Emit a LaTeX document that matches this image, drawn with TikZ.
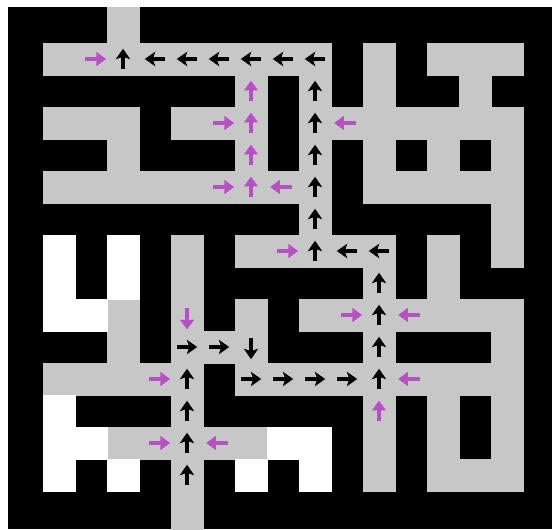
\documentclass[tikz,border=0pt]{standalone}
\usepackage{xcolor}
\usepackage{tikz}
\usetikzlibrary{arrows.meta}
\definecolor{floorgray}{RGB}{199,199,199}
\definecolor{markmag}{RGB}{182,80,196}

\begin{document}
\begin{tikzpicture}[
  x=8mm, y=-8mm,
  floor/.style={fill=floorgray, draw=floorgray, line width=0.3pt},
  blank/.style={fill=white, draw=white, line width=0.3pt},
  blk/.style={-{Stealth[length=2.6mm, width=3.6mm, inset=0.6mm]}, line width=2.3pt, black},
  mag/.style={-{Triangle[length=2.4mm, width=3.4mm]}, line width=2.6pt, markmag},
]
\useasboundingbox (-0.344,-0.344) rectangle (16.906,16.1875);
\fill[white] (-0.344,-0.344) rectangle (16.906,16.1875);
\fill[black] (-0.094,-0.125) rectangle (16.906,16.1875);

% corridors, row by row
\foreach \r/\cs in {0/{3}, 1/{1,...,9,11,13,14,15}, 2/{7,9,11,14},
    3/{1,2,3,5,6,7,9,10,...,15}, 4/{3,7,9,11,13,15}, 5/{1,...,9,11,12,...,15},
    6/{9,15}, 7/{5,7,8,9,10,11,13,15}, 8/{5,11,13}, 9/{3,5,7,9,10,...,15},
    10/{3,5,6,7,11,15}, 11/{1,...,5,7,8,...,15}, 12/{5,11,13,15},
    13/{3,...,7,11,13,15}, 14/{5,11,13,14,15}, 15/{5}}
  \foreach \c in \cs
    \filldraw[floor] (\c,\r) rectangle ++(1,1);
\filldraw[floor] (3,-0.125) rectangle (4,0.1);
\filldraw[floor] (5,15.9) rectangle (6,16.1875);

% dead ends
\foreach \c/\r in {1/7,3/7,1/8,3/8,1/9,2/9,1/12,1/13,2/13,8/13,9/13,1/14,3/14,7/14,9/14}
  \filldraw[blank] (\c,\r) rectangle ++(1,1);

% path taken
\foreach \c/\r in {3/1,9/2,9/3,9/4,9/5,9/6,9/7,11/8,11/9,11/10,11/11,5/11,5/12,5/13,5/14}
  \draw[blk] (\c+.5,\r+.82) -- (\c+.5,\r+.18);
\foreach \c/\r in {4/1,5/1,6/1,7/1,8/1,9/1,10/7,11/7}
  \draw[blk] (\c+.82,\r+.5) -- (\c+.18,\r+.5);
\foreach \c/\r in {5/10,6/10,7/11,8/11,9/11,10/11}
  \draw[blk] (\c+.2,\r+.5) -- (\c+.82,\r+.5);
\draw[blk] (7.5,10.22) -- (7.5,10.88);

% side branches
\foreach \c/\r in {2/1,6/3,6/5,8/7,10/9,4/11,4/13}
  \draw[mag] (\c+.32,\r+.5) -- (\c+.97,\r+.5);
\foreach \c/\r in {10/3,8/5,12/9,12/11,6/13}
  \draw[mag] (\c+.78,\r+.5) -- (\c+.1,\r+.5);
\foreach \c/\r in {7/2,7/3,7/4,7/5,11/12}
  \draw[mag] (\c+.5,\r+.82) -- (\c+.5,\r+.18);
\draw[mag] (5.5,9.28) -- (5.5,9.95);
\end{tikzpicture}
\end{document}
